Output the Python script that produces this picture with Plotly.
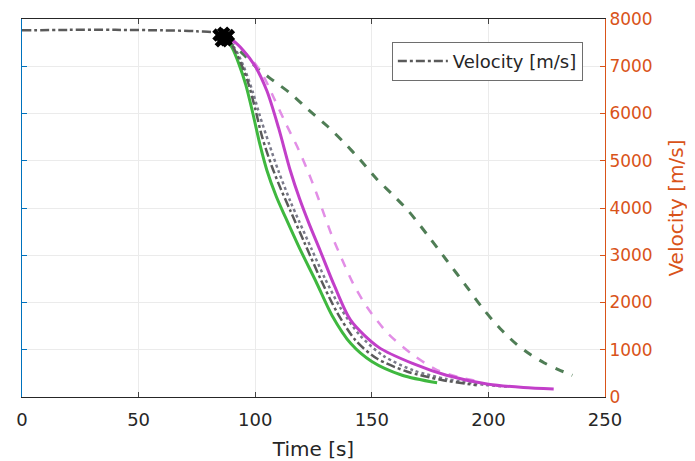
import plotly.graph_objects as go

# gray dash-dot trajectory (legend entry)
t_gray = [0, 20, 40, 60, 75, 86, 90, 94, 97, 100, 103, 107, 111, 115, 121, 128, 135, 143, 152, 165, 180, 195]
v_gray = [7760, 7770, 7770, 7760, 7740, 7680, 7450, 7050, 6650, 6100, 5500, 4900, 4400, 3950, 3280, 2500, 1800, 1200, 820, 540, 360, 250]

# gray dotted trajectory
t_dot = [87, 91, 95, 99, 102, 106, 110, 115, 119, 124, 130, 137, 145, 155, 168, 182, 198, 208]
v_dot = [7600, 7400, 7000, 6450, 5950, 5350, 4780, 4150, 3700, 3150, 2500, 1850, 1300, 870, 560, 380, 260, 220]

# green solid
t_green = [87, 90, 93, 96, 99, 102, 105, 109, 113, 119, 126, 133, 141, 150, 163, 178]
v_green = [7600, 7400, 7050, 6600, 6000, 5350, 4800, 4250, 3800, 3150, 2450, 1720, 1130, 750, 460, 300]

# magenta solid
t_mag = [87, 90, 95, 100, 105, 110, 115, 119, 123, 128, 134, 141, 153, 168, 182, 200, 215, 228]
v_mag = [7620, 7560, 7330, 7000, 6480, 5700, 4800, 4200, 3680, 3080, 2350, 1620, 1050, 700, 460, 270, 200, 170]

# light magenta dashed
t_pink = [88, 95, 100, 104, 108, 113, 118, 122, 126, 130, 133, 137, 142, 148, 157, 168, 178, 189, 197]
v_pink = [7600, 7320, 7050, 6750, 6330, 5800, 5300, 4850, 4350, 3800, 3400, 2940, 2400, 1900, 1340, 880, 570, 400, 320]

# dark green dashed
t_dgreen = [88, 95, 100, 106, 115, 123, 131, 138, 145, 152, 159, 166, 174, 182, 190, 198, 205, 212, 218, 224, 230, 236]
v_dgreen = [7580, 7250, 7000, 6760, 6430, 6070, 5730, 5390, 5020, 4620, 4280, 3920, 3420, 2900, 2380, 1850, 1450, 1120, 900, 720, 580, 460]

# black start markers
t_start = [84.5, 86.5, 88.5, 85.5, 87.5, 86.5]
v_start = [7660, 7700, 7650, 7540, 7560, 7610]

x_ticks = [0, 50, 100, 150, 200, 250]
y_ticks = [0, 1000, 2000, 3000, 4000, 5000, 6000, 7000, 8000]

FONT = "DejaVu Sans"
ORANGE = "#D95319"
BLUE = "#0072BD"

fig = go.Figure()

# empty trace so the left (blue) axis gets drawn
fig.add_trace(go.Scatter(x=[], y=[], yaxis="y", showlegend=False))


def curve(t, v, color, width, dash="solid", name=None):
    return go.Scatter(x=t, y=v, mode="lines", yaxis="y2", name=name,
                      showlegend=name is not None,
                      line=dict(color=color, width=width, dash=dash, shape="spline", smoothing=0.8))


fig.add_trace(curve(t_dgreen, v_dgreen, "#4f7d55", 3, "dash"))
fig.add_trace(curve(t_pink, v_pink, "#e28ee6", 2.5, "dash"))
fig.add_trace(curve(t_green, v_green, "#3fb83f", 3))
fig.add_trace(curve(t_dot, v_dot, "#7a7a8a", 2.5, "dot"))
fig.add_trace(curve(t_mag, v_mag, "#c23fc9", 3))
fig.add_trace(curve(t_gray, v_gray, "#5a5a5a", 2.5, "dashdot", name="Velocity [m/s]"))
fig.add_trace(go.Scatter(x=t_start, y=v_start, mode="markers", yaxis="y2", showlegend=False,
                         marker=dict(symbol="x", size=12, color="black")))

# page body has an 8px margin, so the figure is a bit smaller than the window
fig.update_layout(
    width=687, height=453,
    margin=dict(l=14, r=90, t=11, b=64),
    paper_bgcolor="white", plot_bgcolor="white",
    font=dict(family=FONT, size=18, color="#262626"),
    xaxis=dict(
        range=[0, 250], tickvals=x_ticks, ticks="inside", ticklen=5,
        showline=True, linecolor="#262626", linewidth=1, mirror="ticks",
        showgrid=True, gridcolor="#ebebeb", zeroline=False, automargin=False,
        ticklabeloverflow="allow", ticklabelstandoff=6,
        title=dict(text="Time [s]", font=dict(size=20), standoff=13),
        tickfont=dict(size=18),
    ),
    yaxis=dict(
        range=[0, 8000], tickvals=y_ticks, ticks="inside", ticklen=5, tickcolor=BLUE,
        showline=True, linecolor=BLUE, linewidth=1, showticklabels=False,
        showgrid=True, gridcolor="#ebebeb", zeroline=False, automargin=False,
    ),
    yaxis2=dict(
        range=[0, 8000], tickvals=y_ticks, overlaying="y", side="right",
        ticks="inside", ticklen=5, tickcolor=ORANGE,
        showline=True, linecolor=ORANGE, linewidth=1,
        showgrid=False, zeroline=False, automargin=False,
        ticklabeloverflow="allow",
        tickfont=dict(size=17, color=ORANGE),
        title=dict(text="Velocity [m/s]", font=dict(size=20, color=ORANGE), standoff=17),
    ),
    legend=dict(
        x=0.962, y=0.94, xanchor="right", yanchor="top",
        bgcolor="white", bordercolor="#6e6e6e", borderwidth=1,
        itemwidth=50,
        font=dict(size=18, color="#262626"),
    ),
)

fig.write_html("out.html")
